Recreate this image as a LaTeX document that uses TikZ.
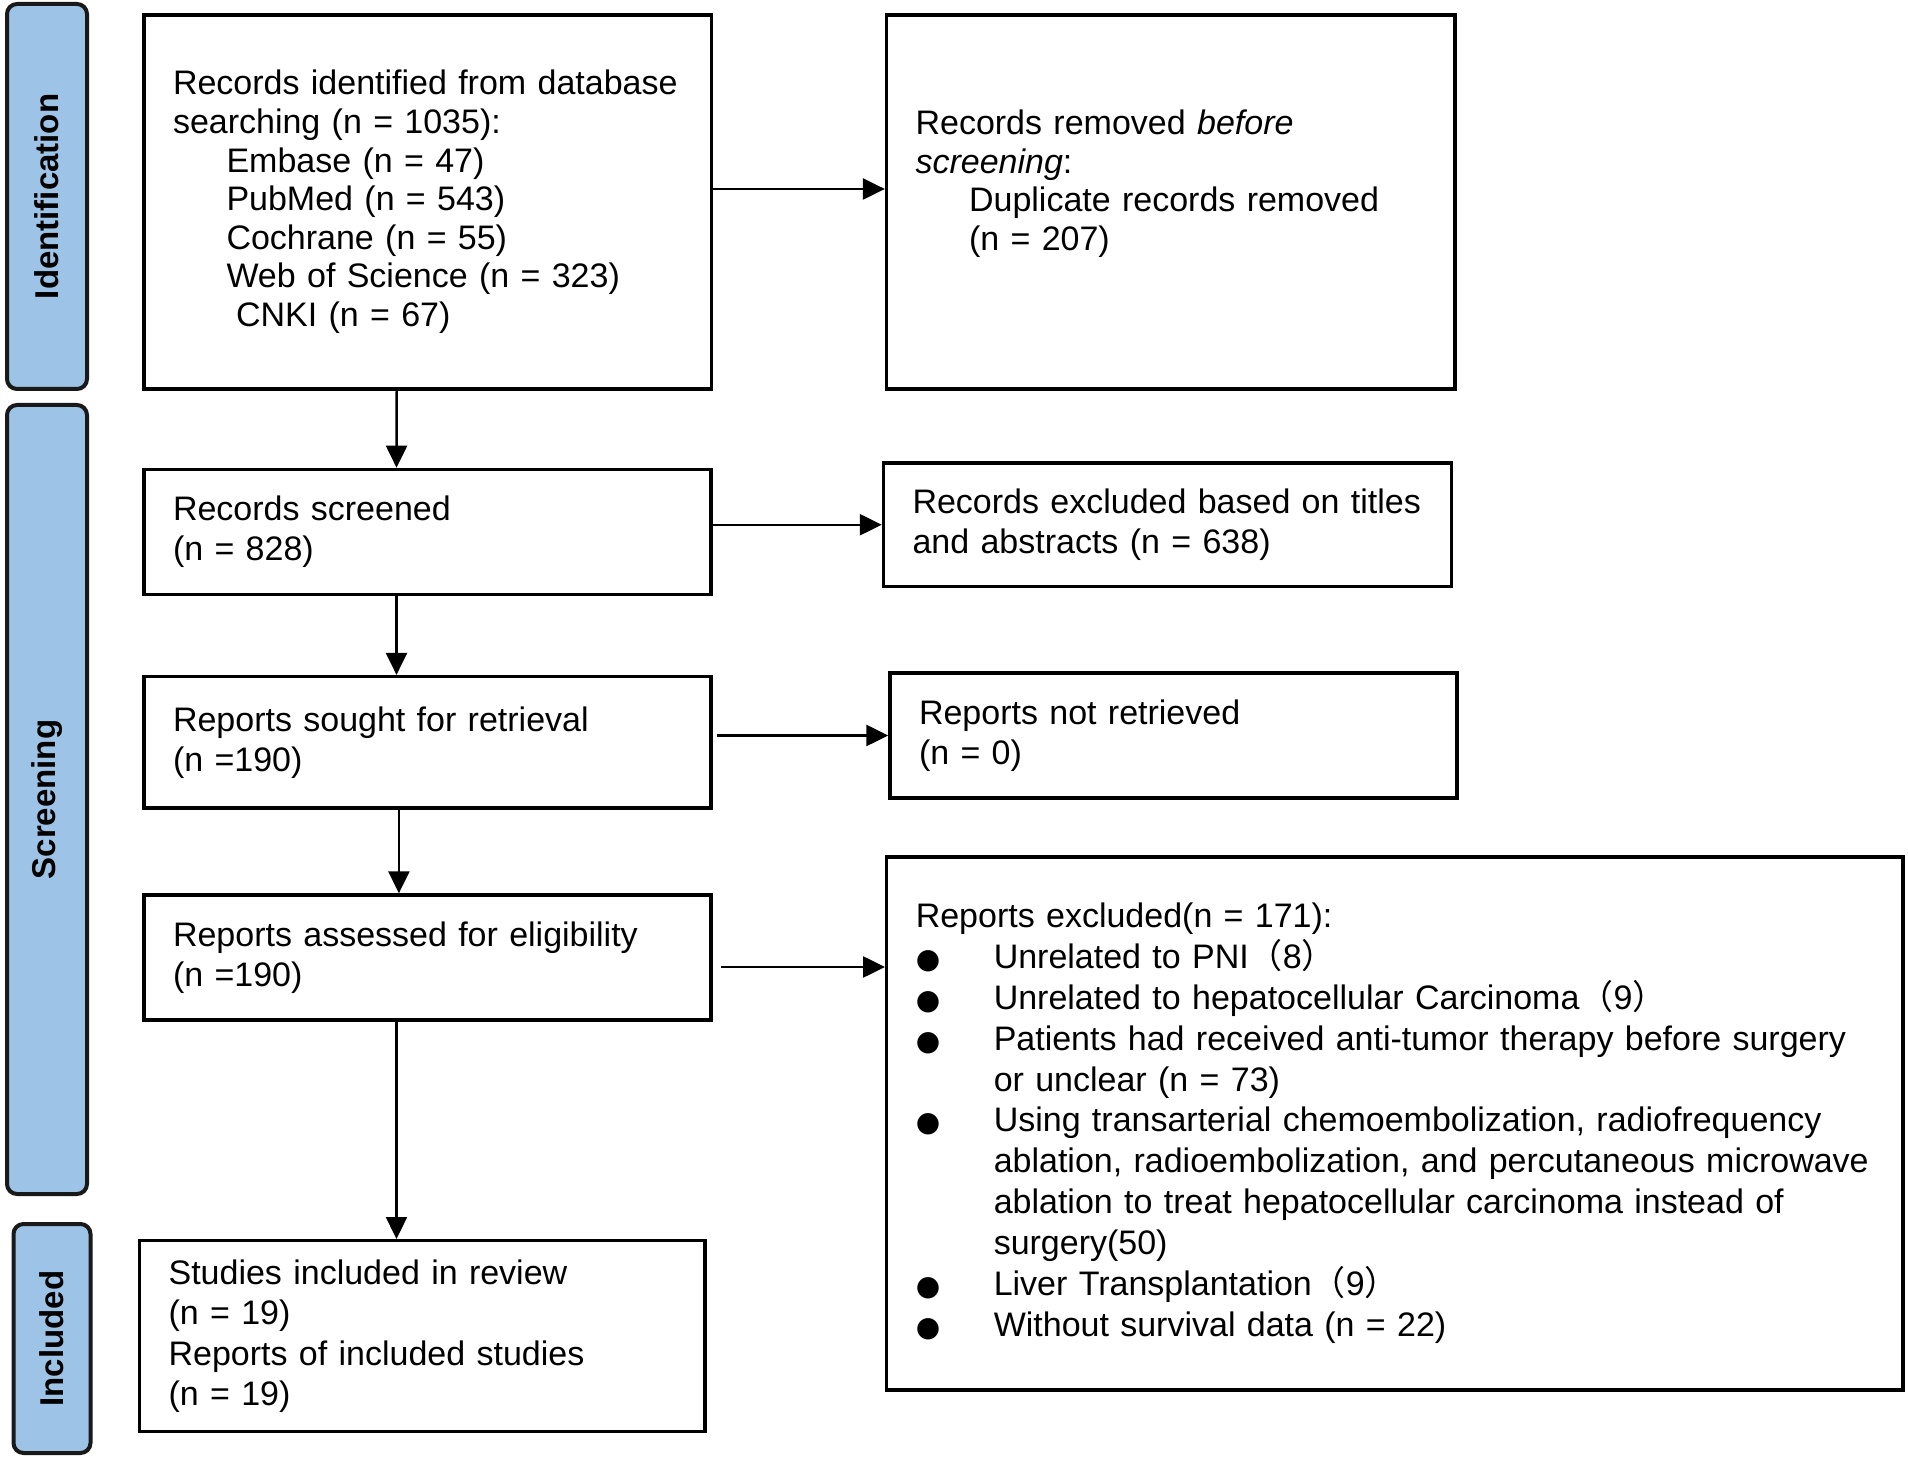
\documentclass[tikz,border=0pt]{standalone}
\usepackage{fontspec}
\setmainfont{Liberation Sans}
\newfontfamily\cjk{Noto Sans CJK SC}
\newfontfamily\dejavu{DejaVu Sans}
\usetikzlibrary{arrows.meta}
\definecolor{barblue}{RGB}{157,195,230}
\newcommand{\bul}{\makebox[39pt][l]{\dejavu\fontsize{14}{14}\selectfont ●}}
\newcommand{\fwl}{{\cjk （}}
\newcommand{\fwr}{{\cjk ）}}

\begin{document}
\begin{tikzpicture}
		[x=0.5pt,y=-0.5pt,
		box/.style={rectangle,draw=black,line width=1.7pt,inner xsep=14.5pt,inner ysep=0pt,align=left,font=\fontsize{17}{20}\selectfont},
		bar/.style={rectangle,rotate=90,rounded corners=5pt,draw=black!90,line width=2pt,fill=barblue,minimum height=40pt,font=\fontsize{16.5}{16.5}\selectfont\bfseries},
		arr/.style={-{Triangle[length=11pt,width=10.5pt]},line width=1.2pt}]
		\useasboundingbox (0,0) rectangle (1908,1459);
		% phase bars
		\node[bar,minimum width=192.5pt] (idbar) at (47,196.5) {Identification};
		\node[bar,minimum width=394.5pt] (scbar) at (47,799.5) {Screening};
		\node[bar,minimum width=114.5pt,minimum height=38.5pt] (inbar) at (52,1338.5) {Included};
		% left column
		\node[box,text width=254.7pt,minimum height=187pt,font=\fontsize{17}{19.3}\selectfont] (ident) at (427.7,202) {Records identified from database\\searching (n = 1035):\\\hspace*{26.75pt}Embase (n = 47)\\\hspace*{26.75pt}PubMed (n = 543)\\\hspace*{26.75pt}Cochrane (n = 55)\\\hspace*{26.75pt}Web of Science (n = 323)\\\hspace*{31.5pt}CNKI (n = 67)};
		\node[box,text width=254.5pt,minimum height=62.6pt] (screened) at (427.5,532) {Records screened\\(n = 828)};
		\node[box,text width=254.5pt,minimum height=65.7pt] (sought) at (427.5,742.3) {Reports sought for retrieval\\(n =190)};
		\node[box,text width=254.5pt,minimum height=62.5pt] (assessed) at (427.5,957.5) {Reports assessed for eligibility\\(n =190)};
		\node[box,text width=253.7pt,minimum height=95.5pt,font=\fontsize{17}{20.2}\selectfont] (included) at (422.3,1336.2) {Studies included in review\\(n = 19)\\Reports of included studies\\(n = 19)};
		% right column
		\node[box,text width=255.25pt,minimum height=187pt,text depth=79.6pt,font=\fontsize{17}{19.3}\selectfont] (removed) at (1170.8,202) {Records removed \textit{before}\\\textit{screening}:\\\hspace*{26.75pt}Duplicate records removed\\\hspace*{26.75pt}(n = 207)};
		\node[box,text width=255pt,minimum height=61.75pt] (excl) at (1167.5,524.75) {Records excluded based on titles\\and abstracts (n = 638)};
		\node[box,text width=254.5pt,minimum height=62.5pt] (notret) at (1173.5,735.5) {Reports not retrieved\\(n = 0)};
		\node[box,text width=479.15pt,minimum height=266.5pt,font=\fontsize{17}{20.35}\selectfont] (repexcl) at (1394.9,1123.5) {\begin{tabular}{@{}l@{}l@{}}
			\multicolumn{2}{@{}l@{}}{Reports excluded(n = 171):}\\
			\bul & Unrelated to PNI\fwl8\fwr\\
			\bul & Unrelated to hepatocellular Carcinoma\fwl9\fwr\\
			\bul & Patients had received anti-tumor therapy before surgery\\
			 & or unclear (n = 73)\\
			\bul & Using transarterial chemoembolization, radiofrequency\\
			 & ablation, radioembolization, and percutaneous microwave\\
			 & ablation to treat hepatocellular carcinoma instead of\\
			 & surgery(50)\\
			\bul & Liver Transplantation\fwl9\fwr\\
			\bul & Without survival data (n = 22)
		\end{tabular}};
		% arrows down
		\coordinate (v4) at ([xshift=-15.5pt]assessed.south);
		\path ([xshift=-15.5pt]ident.south) edge[arr] ([xshift=-15.5pt]screened.north);
		\path ([xshift=-15.5pt]screened.south) edge[arr] ([xshift=-15.5pt]sought.north);
		\path ([xshift=-14.3pt]sought.south) edge[arr] ([xshift=-14.3pt]assessed.north);
		\path (v4) edge[arr] (v4 |- included.north);
		% arrows right
		\coordinate (h1) at ([yshift=6.5pt]ident.east);
		\coordinate (h4) at ([xshift=4pt,yshift=-4.75pt]assessed.east);
		\path (h1) edge[arr] (h1 -| removed.west);
		\path (screened.east |- excl.west) edge[arr] (excl.west);
		\path ([xshift=2pt]sought.east |- notret.west) edge[arr] (notret.west);
		\path (h4) edge[arr] (h4 -| repexcl.west);
\end{tikzpicture}
\end{document}
